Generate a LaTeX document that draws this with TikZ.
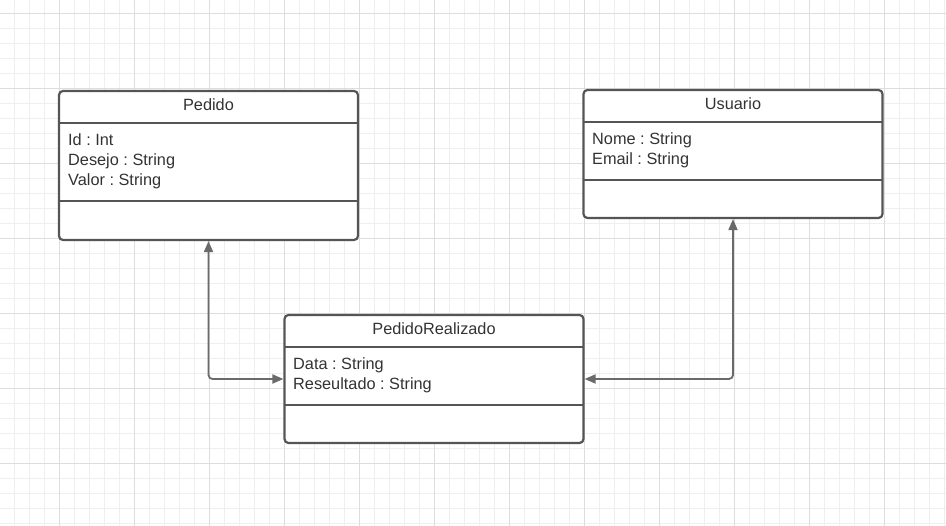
\documentclass[tikz,border=0pt]{standalone}
\usepackage{fontspec}
\setmainfont{Liberation Sans}
\usetikzlibrary{arrows.meta}
\frenchspacing
\definecolor{boxline}{HTML}{555555}
\definecolor{arrowline}{HTML}{6A6A6A}
\definecolor{gridminor}{HTML}{EFEFEF}
\definecolor{gridmajor}{HTML}{DDDDDD}
\definecolor{textgray}{HTML}{333333}
\begin{document}
\begin{tikzpicture}[x=1pt,y=-1pt,
		classbox/.style={draw=boxline,line width=2.2pt,rounded corners=4pt,fill=white,minimum width=299pt,inner sep=0pt},
		divider/.style={draw=boxline,line width=2.2pt},
		title/.style={font=\fontsize{16.3}{19}\selectfont,text=textgray},
		attr/.style={font=\fontsize{16.3}{20}\selectfont,text=textgray,anchor=north west,align=left,inner sep=0pt},
		link/.style={draw=arrowline,line width=1.8pt,rounded corners=4pt,{Triangle[length=11pt,width=9pt]}-{Triangle[length=11pt,width=9pt]}}]
		\useasboundingbox (0,0) rectangle (946,526);
		\fill[white] (0,0) rectangle (946,526);
		% grid
		\foreach \x in {14,29,...,944} \draw[gridminor,line width=1pt] (\x,0) -- (\x,526);
		\foreach \y in {14,29,...,524} \draw[gridminor,line width=1pt] (0,\y) -- (946,\y);
		\foreach \x in {59,134,...,944} \draw[gridmajor,line width=1pt] (\x,0) -- (\x,526);
		\foreach \y in {14,89,...,524} \draw[gridmajor,line width=1pt] (0,\y) -- (946,\y);
		
		% classes
		\node[classbox,minimum height=149pt] (pedido) at (208.5,165.5) {};
		\draw[divider] (59,123) -- (358,123);
		\draw[divider] (59,201) -- (358,201);
		\node[title] (pedidoname) at (208.5,105) {Pedido};
		\node[attr] (pedidoattr) at (68,133.5) {Id : Int\\Desejo : String\\Valor : String};
		
		\node[classbox,minimum height=128pt] (usuario) at (733,154) {};
		\draw[divider] (583,122) -- (883,122);
		\draw[divider] (583,180) -- (883,180);
		\node[title] (usuarioname) at (733,104) {Usuario};
		\node[attr] (usuarioattr) at (592,132.5) {Nome : String\\Email : String};
		
		\node[classbox,minimum height=128pt] (realizado) at (434,379) {};
		\draw[divider] (284,347) -- (584,347);
		\draw[divider] (284,405) -- (584,405);
		\node[title] (realizadoname) at (434,329) {PedidoRealizado};
		\node[attr] (realizadoattr) at (293,357.5) {Data : String\\Reseultado : String};
		
		% associations
		\draw[link] (pedido.south) |- (realizado.west);
		\draw[link] (usuario.south) |- (realizado.east);
	\end{tikzpicture}
\end{document}
